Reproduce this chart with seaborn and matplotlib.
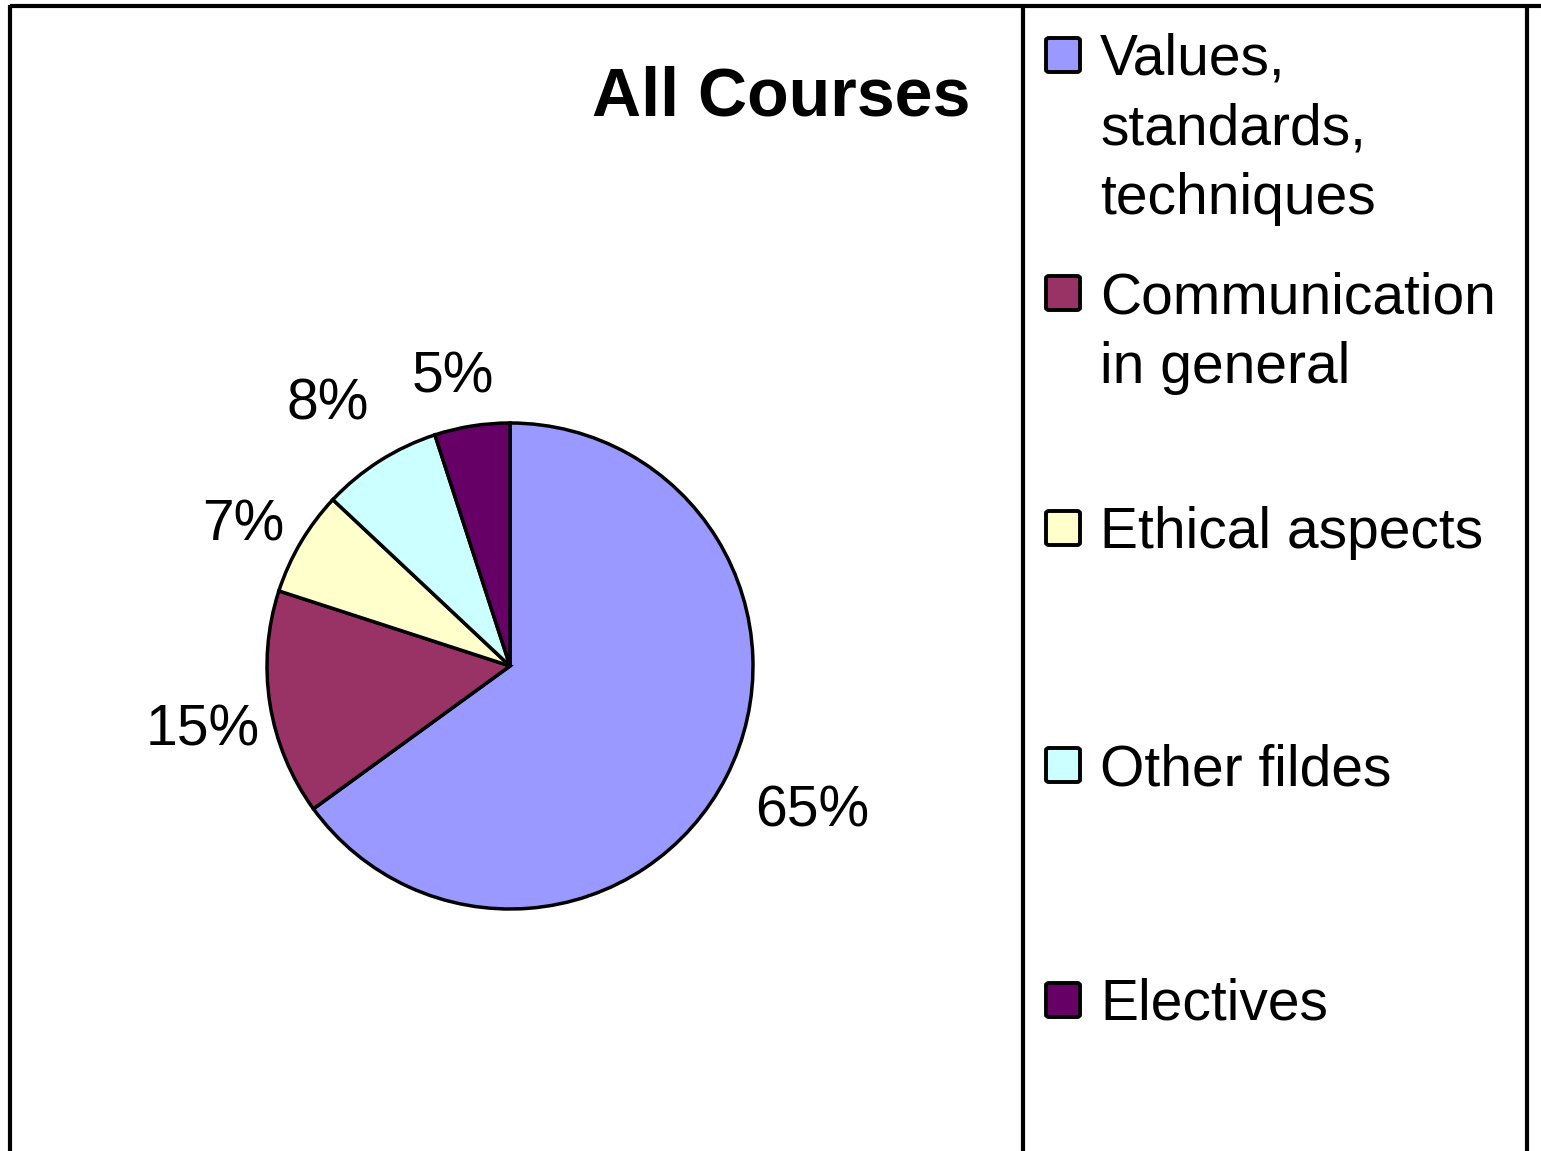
import numpy as np
import matplotlib
matplotlib.use("Agg")
import matplotlib.pyplot as plt
from matplotlib.lines import Line2D
from matplotlib.patches import FancyBboxPatch
from matplotlib.transforms import offset_copy
import seaborn as sns

# data
categories = ["Values,\nstandards,\ntechniques", "Communication\nin general",
              "Ethical aspects", "Other fildes", "Electives"]
shares = [65, 15, 7, 8, 5]
colors = ["#9999FF", "#993366", "#FFFFCC", "#CCFFFF", "#660066"]
title = "All Courses"
# radial distance of each percent label (in pie radii)
label_dist = [1.37, 1.29, 1.25, 1.33, 1.23]
label_turn = 2.0  # degrees, labels sit slightly counter-clockwise of wedge middle

sns.set_theme(style="white")
plt.rcParams['font.family'] = ['Liberation Sans', 'DejaVu Sans']
plt.rcParams['text.color'] = 'black'

W, H = 1541, 1151
fig = plt.figure(figsize=(W / 100, H / 100), dpi=100)
fig.patch.set_facecolor("white")

def fx(px):
    return px / W

def fy(py):
    return 1 - py / H

# pie axes: centre (510, 666) px, radius 243 px
cx, cy, r_px, half = 510, 666, 243, 420
ax = fig.add_axes([fx(cx - half), fy(cy + half), 2 * half / W, 2 * half / H])

wedges, _, autotexts = ax.pie(
    shares, colors=colors, startangle=90, counterclock=False,
    autopct=lambda p: f"{p:.0f}%", pctdistance=1.3,
    wedgeprops=dict(edgecolor="black", linewidth=2.5),
    textprops=dict(fontsize=41, color="black"),
)
ax.set_xlim(-half / r_px, half / r_px)
ax.set_ylim(-half / r_px, half / r_px)
ax.set_aspect("equal")
ax.axis("off")

shift = offset_copy(ax.transData, fig=fig, x=0, y=-5, units="dots")
for w, t, d in zip(wedges, autotexts, label_dist):
    ang = np.deg2rad((w.theta1 + w.theta2) / 2 + label_turn)
    t.set_position((d * np.cos(ang), d * np.sin(ang)))
    t.set_transform(shift)
    t.set_clip_on(False)

fig.text(fx(970), fy(97), title, fontsize=49, fontweight="bold",
         color="black", ha="right", va="center")

# frame lines
lw = 3.0
for xs, ys in [([10, 10], [5, H + 5]),
               ([10, W + 5], [6, 6]),
               ([1023, 1023], [6, H + 5]),
               ([1527, 1527], [6, H + 5])]:
    fig.add_artist(Line2D([fx(x) for x in xs], [fy(y) for y in ys],
                          color="black", linewidth=lw, solid_capstyle="butt"))

# legend entries
entry_y = [55, 293, 528, 765, 1000]
for lab, col, y in zip(categories, colors, entry_y):
    sq = 34
    fig.add_artist(FancyBboxPatch((fx(1046), fy(y + sq / 2)), sq / W, sq / H,
                                  boxstyle="round,pad=0,rounding_size=0.002",
                                  facecolor=col, edgecolor="black", linewidth=2.8,
                                  transform=fig.transFigure))
    fig.text(fx(1100), fy(y - 22), lab, fontsize=41, color="black",
             ha="left", va="top", linespacing=1.37)

fig.savefig("out.png", dpi=100, facecolor="white")
